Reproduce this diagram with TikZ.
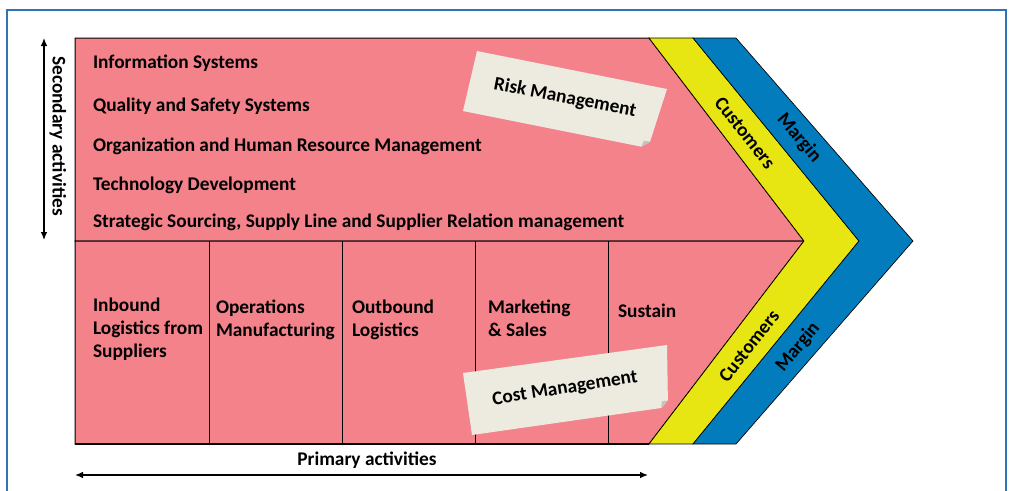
\documentclass[tikz,border=0pt]{standalone}
\usepackage{fontspec}
\setmainfont{Carlito}
\usetikzlibrary{arrows.meta,calc}

\definecolor{chainpink}{RGB}{244,130,138}
\definecolor{custyellow}{RGB}{232,230,18}
\definecolor{marginblue}{RGB}{3,124,190}
\definecolor{notepaper}{RGB}{237,235,224}
\definecolor{foldgray}{RGB}{196,196,190}
\definecolor{framecol}{RGB}{46,117,182}

\begin{document}
\begin{tikzpicture}[x=0.75pt,y=-0.75pt,
  every node/.style={inner sep=0pt, outer sep=0pt},
  txt/.style={font=\fontsize{14.5}{17.25}\selectfont\bfseries},
  cell/.style={fill=chainpink, draw=black, line width=0.75pt},
  band/.style={draw=black, line width=0.5pt},
  notebox/.style={fill=notepaper},
  fold/.style={fill=foldgray},
  span/.style={{Latex[length=6pt,width=5pt]}-{Latex[length=6pt,width=5pt]}, line width=1pt},
]
\useasboundingbox (0,0) rectangle (1010,490);

% outer frame
\draw[framecol, line width=1.5pt] (7,495) -- (7,10) -- (1006,10) -- (1006,495);

% value chain body
\coordinate (tl) at (75,38);
\coordinate (tr) at (649,38);
\coordinate (tip) at (804,241);
\coordinate (ml) at (75,241);
\coordinate (br) at (649,444);
\coordinate (bl) at (75,444);
\draw[cell] (tl) -- (tr) -- (tip) -- (ml) -- cycle;
\draw[cell] (ml) -- (tip) -- (br) -- (bl) -- cycle;

% columns of primary activities
\foreach \x/\n in {209/a,342/b,475/c,608/d}{
  \coordinate (c\n t) at (\x,241);
  \coordinate (c\n b) at (\x,444);
  \draw[line width=0.75pt] (c\n t) -- (c\n b);
}
\draw[line width=1.5pt] (bl) -- (br);

% customers and margin bands
\coordinate (ytr) at (693,38);
\coordinate (ytip) at (859,241);
\coordinate (ybr) at (693,444);
\coordinate (btr) at (736,38);
\coordinate (btip) at (913,241);
\coordinate (bbr) at (736,444);
\draw[band, fill=custyellow] (tr) -- (ytr) -- (ytip) -- (ybr) -- (br) -- (tip) -- cycle;
\draw[band, fill=marginblue] (ytr) -- (btr) -- (btip) -- (bbr) -- (ybr) -- (ytip) -- cycle;

% secondary activities
\node[txt, anchor=base west] (s1) at (93,68) {Information Systems};
\node[txt, anchor=base west] (s2) at (93,111) {Quality and Safety Systems};
\node[txt, anchor=base west] (s3) at (93,151) {Organization and Human Resource Management};
\node[txt, anchor=base west] (s4) at (93,190) {Technology Development};
\node[txt, anchor=base west] (s5) at (93,227) {Strategic Sourcing, Supply Line and Supplier Relation management};

% primary activities
\node[txt, anchor=north west, align=left] (p1) at (93,295)
  {\strut Inbound\\\strut Logistics from\\\strut Suppliers};
\node[txt, anchor=north west, align=left] (p2) at (216,297)
  {\strut Operations\\\strut Manufacturing};
\node[txt, anchor=north west, align=left] (p3) at (352,297)
  {\strut Outbound\\\strut Logistics};
\node[txt, anchor=north west, align=left] (p4) at (488,297)
  {\strut Marketing\\\strut \& Sales};
\node[txt, anchor=base west] (p5) at (618,317) {Sustain};

% band labels
\node[txt, rotate=-51.5] (cu1) at (745,133) {Customers};
\node[txt, rotate=-50] (ma1) at (799,138) {Margin};
\node[txt, rotate=51.5] (cu2) at (749,346) {Customers};
\node[txt, rotate=50] (ma2) at (798,347) {Margin};

% sticky notes
\coordinate (ra) at (477,51);
\coordinate (rb) at (667,89);
\coordinate (rc) at (648,148);
\coordinate (rd) at (463,111);
\coordinate (rc1) at ($(rc)!5pt!(rd)$);
\coordinate (rc2) at ($(rc)!5pt!(rb)$);
\fill[notebox] (ra) -- (rb) -- (rc2) -- (rc1) -- (rd) -- cycle;
\fill[fold] (rc2) -- (rc1) -- ($(rc1)!0.5!(rc2)!3pt!90:(rc2)$) -- cycle;
\node[txt, rotate=-11] (risk) at (565,98) {Risk Management};

\coordinate (ca) at (463,373);
\coordinate (cb) at (667,345);
\coordinate (cc) at (668,407);
\coordinate (cd) at (472,435);
\coordinate (cc1) at ($(cc)!5pt!(cd)$);
\coordinate (cc2) at ($(cc)!5pt!(cb)$);
\fill[notebox] (ca) -- (cb) -- (cc2) -- (cc1) -- (cd) -- cycle;
\fill[fold] (cc2) -- (cc1) -- ($(cc1)!0.5!(cc2)!3pt!90:(cc2)$) -- cycle;
\node[txt, rotate=9] (cost) at (565,389) {Cost Management};

% extent arrows
\coordinate (sa1) at (44,38);
\coordinate (sa2) at (44,240);
\draw[span] (sa1) -- (sa2);
\node[txt, rotate=-90] (sec) at (58,136) {Secondary activities};

\coordinate (pa1) at (75,475);
\coordinate (pa2) at (648,475);
\draw[span] (pa1) -- (pa2);
\node[txt] (prim) at (367,460) {Primary activities};
\end{tikzpicture}
\end{document}
